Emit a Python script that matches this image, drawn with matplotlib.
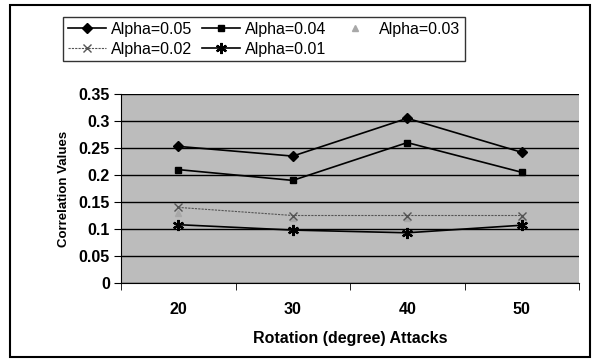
import matplotlib.pyplot as plt
from matplotlib.patches import Rectangle

plt.rcParams['font.family'] = ['Liberation Sans', 'DejaVu Sans']

angles = ['20', '30', '40', '50']
alpha_005 = [0.253, 0.235, 0.305, 0.242]
alpha_004 = [0.210, 0.190, 0.260, 0.205]
alpha_003 = [0.130, 0.120, 0.120, 0.122]
alpha_002 = [0.140, 0.125, 0.125, 0.125]
alpha_001 = [0.108, 0.098, 0.093, 0.107]
yticks = [0, 0.05, 0.1, 0.15, 0.2, 0.25, 0.3, 0.35]

W, H = 595, 360
fig = plt.figure(figsize=(W / 100, H / 100), dpi=100)
ax = fig.add_axes([121 / W, 1 - 283 / H, (579 - 121) / W, (283 - 94) / H])
ax.set_facecolor('#bcbcbc')

x = list(range(len(angles)))
l1, = ax.plot(x, alpha_005, color='black', lw=1.2, marker='D', ms=5, label='Alpha=0.05')
l2, = ax.plot(x, alpha_004, color='black', lw=1.2, marker='s', ms=5, label='Alpha=0.04')
l3, = ax.plot(x, alpha_003, color='#a8a8a8', lw=0, marker='^', ms=4, label='Alpha=0.03')
l4, = ax.plot(x, alpha_002, color='#555555', lw=0.8, ls=(0, (2, 1)), marker='x', ms=6,
              label='Alpha=0.02')
l5, = ax.plot(x, alpha_001, color='black', lw=1.2, marker=(6, 2, 0), ms=8, mew=1.6,
              label='Alpha=0.01')

ax.set_xlim(-0.5, len(angles) - 0.5)
ax.set_ylim(0, 0.35)
ax.set_yticks(yticks)
ax.set_yticklabels(['0', '0.05', '0.1', '0.15', '0.2', '0.25', '0.3', '0.35'],
                   fontsize=11.5, fontweight='bold')
ax.set_xticks(x)
ax.set_xticklabels(angles, fontsize=11.5, fontweight='bold')
ax.set_xticks([i + 0.5 for i in range(-1, len(angles))], minor=True)
ax.tick_params(axis='x', which='major', length=0, pad=14)
ax.tick_params(axis='x', which='minor', length=5, direction='out')
ax.tick_params(axis='y', length=5, direction='out', pad=3)
ax.grid(axis='y', color='black', lw=1)
ax.set_axisbelow(True)
for s in ['top', 'right']:
    ax.spines[s].set_visible(False)

ax.set_xlabel('Rotation (degree) Attacks', fontsize=11.5, fontweight='bold', labelpad=10)
ax.set_ylabel('Correlation Values', fontsize=9.5, fontweight='bold', labelpad=6)

# legend fills column by column, so order handles to read row-wise
leg = fig.legend(handles=[l1, l4, l2, l5, l3], loc='upper left',
                 bbox_to_anchor=(55 / W, 1 - 9 / H), ncol=3, fontsize=11.5,
                 frameon=True, fancybox=False, edgecolor='black', handlelength=2.4,
                 handletextpad=0.3, columnspacing=0.6, borderpad=0.3, labelspacing=0.3)
leg.get_frame().set_linewidth(1)

fig.patches.append(Rectangle((10 / W, 3 / H), (590 - 10) / W, (355 - 3) / H,
                             transform=fig.transFigure, fill=False, ec='black', lw=1.5))

fig.savefig('out.png', dpi=100)
